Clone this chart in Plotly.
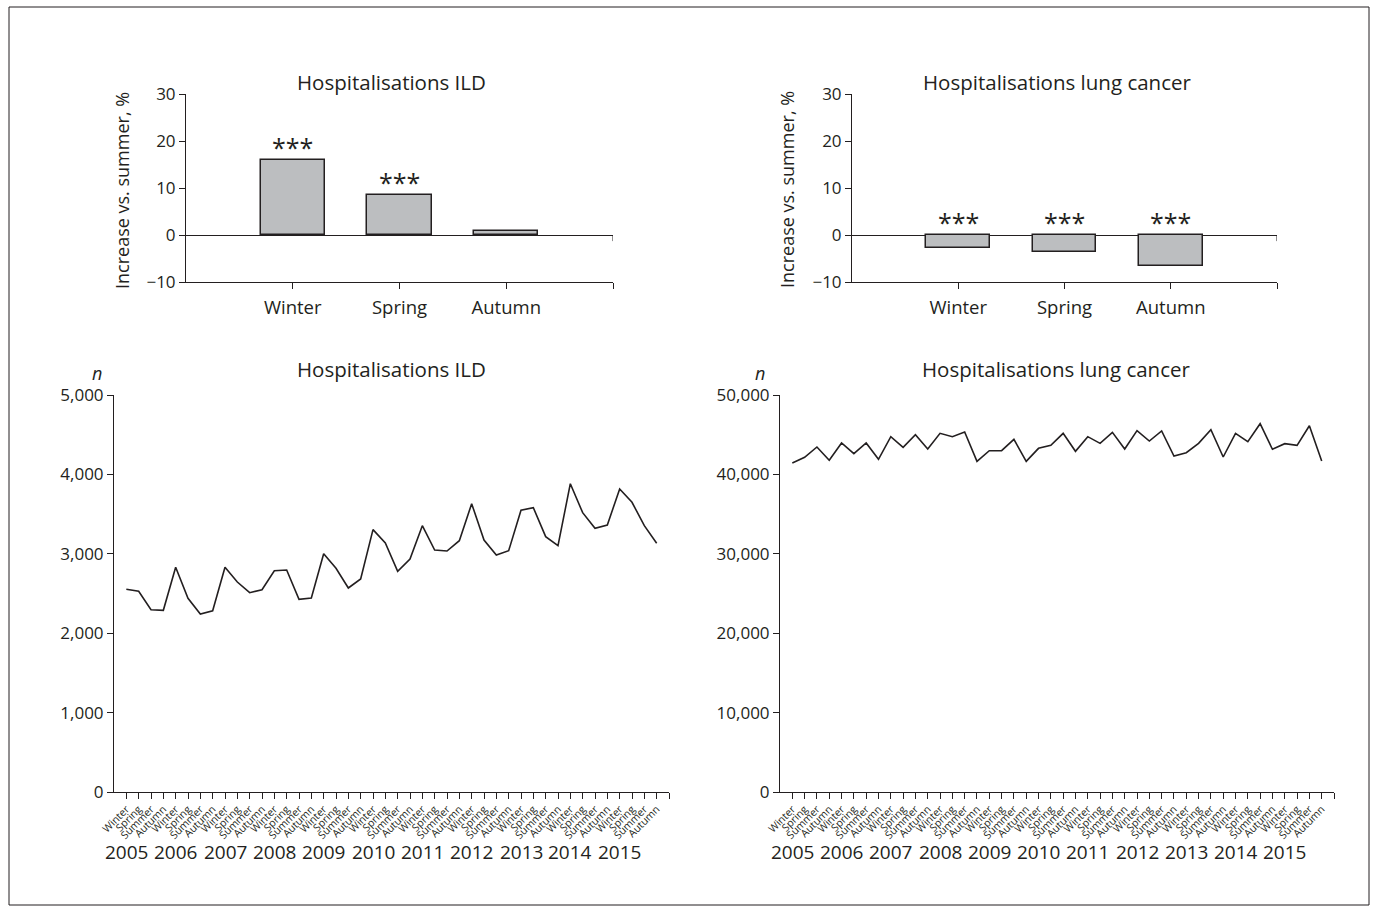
import plotly.graph_objects as go

W, H = 1373, 911

# ---------------- data ----------------
bar_categories = ["Winter", "Spring", "Autumn"]
ild_increase = [16.0, 8.6, 0.8]
ild_sig = ["***", "***", ""]
lc_increase = [-2.7, -3.6, -6.5]
lc_sig = ["***", "***", "***"]

years = ["2005", "2006", "2007", "2008", "2009", "2010",
         "2011", "2012", "2013", "2014", "2015"]
seasons = ["Winter", "Spring", "Summer", "Autumn"]

ild_counts = [2553, 2528, 2296, 2288, 2830, 2439, 2242, 2283, 2830, 2645, 2510,
              2548, 2787, 2796, 2427, 2443, 3001, 2817, 2569, 2683, 3304, 3136,
              2780, 2935, 3354, 3048, 3035, 3165, 3631, 3174, 2985, 3039, 3548,
              3581, 3216, 3102, 3883, 3518, 3321, 3363, 3816, 3649, 3354, 3132]

lc_counts = [41436, 42150, 43451, 41772, 43955, 42607, 43955, 41898, 44752, 43409,
             45004, 43199, 45172, 44752, 45340, 41646, 42984, 42984, 44416, 41646,
             43283, 43661, 45172, 42907, 44752, 43913, 45298, 43199, 45508, 44206,
             45466, 42317, 42737, 43913, 45634, 42191, 45172, 44122, 46385, 43161,
             43871, 43661, 46134, 41688]

# ---------------- style ----------------
INK = "#231f20"
BAR_FILL = "#bcbec0"
FONT = "Open Sans"


def px_x(p):
    return p / W


def px_y(p):
    return 1 - p / H


fig = go.Figure()

# ---- bar charts ----
bar_x = list(range(1, len(bar_categories) + 1))
fig.add_trace(go.Bar(x=bar_x, y=ild_increase, xaxis="x", yaxis="y",
                     marker=dict(color=BAR_FILL, line=dict(color=INK, width=1.5)),
                     width=0.6, showlegend=False, hoverinfo="skip"))
fig.add_trace(go.Bar(x=bar_x, y=lc_increase, xaxis="x2", yaxis="y2",
                     marker=dict(color=BAR_FILL, line=dict(color=INK, width=1.5)),
                     width=0.6, showlegend=False, hoverinfo="skip"))

# ---- line charts ----
n_pts = len(ild_counts)
line_x = list(range(1, n_pts + 1))
season_labels = [seasons[i % 4] for i in range(n_pts)]
fig.add_trace(go.Scatter(x=line_x, y=ild_counts, xaxis="x3", yaxis="y3",
                         mode="lines", line=dict(color=INK, width=1.6),
                         showlegend=False, hoverinfo="skip"))
fig.add_trace(go.Scatter(x=line_x, y=lc_counts, xaxis="x4", yaxis="y4",
                         mode="lines", line=dict(color=INK, width=1.6),
                         showlegend=False, hoverinfo="skip"))

common_axis = dict(showline=True, linecolor=INK, linewidth=1, ticks="outside",
                   ticklen=6, tickwidth=1, tickcolor=INK, showgrid=False,
                   automargin=False,
                   tickfont=dict(family=FONT, size=17, color=INK))

bar_xaxis = dict(common_axis, range=[0, len(bar_categories) + 1],
                 tickvals=bar_x + [len(bar_categories) + 1],
                 ticktext=bar_categories + [""], zeroline=False,
                 ticklabelstandoff=3,
                 tickfont=dict(family=FONT, size=18.5, color=INK))
bar_yaxis = dict(common_axis, range=[-10, 30], tickvals=[-10, 0, 10, 20, 30],
                 zeroline=True, zerolinecolor=INK, zerolinewidth=1)

line_xaxis = dict(common_axis, range=[0, n_pts + 1],
                  tickvals=line_x + [n_pts + 1],
                  ticktext=season_labels + [""], tickangle=-45, zeroline=False,
                  tickfont=dict(family=FONT, size=10.5, color=INK))

fig.update_layout(
    width=W, height=H,
    margin=dict(l=0, r=0, t=0, b=0, pad=0, autoexpand=False),
    paper_bgcolor="white", plot_bgcolor="white",
    bargap=0,
    xaxis=dict(bar_xaxis, domain=[px_x(186), px_x(613)], anchor="y"),
    yaxis=dict(bar_yaxis, domain=[px_y(282), px_y(94)], anchor="x"),
    xaxis2=dict(bar_xaxis, domain=[px_x(852), px_x(1277)], anchor="y2"),
    yaxis2=dict(bar_yaxis, domain=[px_y(282), px_y(94)], anchor="x2"),
    xaxis3=dict(line_xaxis, domain=[px_x(114), px_x(669)], anchor="y3"),
    yaxis3=dict(common_axis, domain=[px_y(792), px_y(395)], anchor="x3",
                range=[0, 5000], tickvals=[0, 1000, 2000, 3000, 4000, 5000],
                tickformat=",", zeroline=False),
    xaxis4=dict(line_xaxis, domain=[px_x(780), px_x(1334)], anchor="y4"),
    yaxis4=dict(common_axis, domain=[px_y(792), px_y(395)], anchor="x4",
                range=[0, 50000], tickvals=[0, 10000, 20000, 30000, 40000, 50000],
                tickformat=",", zeroline=False),
)

annotations = []
shapes = []

# titles
for text, cx, cy in [("Hospitalisations ILD", 391, 82),
                     ("Hospitalisations lung cancer", 1057, 82),
                     ("Hospitalisations ILD", 391, 369),
                     ("Hospitalisations lung cancer", 1056, 369)]:
    annotations.append(dict(text=text, x=px_x(cx), y=px_y(cy), xref="paper", yref="paper",
                            showarrow=False, xanchor="center", yanchor="middle",
                            font=dict(family=FONT, size=20.5, color=INK)))

# y titles for bar charts
for cx in [122, 787]:
    annotations.append(dict(text="Increase vs. summer, %", x=px_x(cx), y=px_y(190),
                            xref="paper", yref="paper", showarrow=False, textangle=-90,
                            xanchor="center", yanchor="middle",
                            font=dict(family=FONT, size=18, color=INK)))

# n labels
for cx in [97, 760]:
    annotations.append(dict(text="<i>n</i>", x=px_x(cx), y=px_y(373), xref="paper",
                            yref="paper", showarrow=False, xanchor="center",
                            yanchor="middle", font=dict(family=FONT, size=18, color=INK)))

# significance stars
for axn, vals, sigs in [("", ild_increase, ild_sig), ("2", lc_increase, lc_sig)]:
    for xi, v, s in zip(bar_x, vals, sigs):
        if s:
            annotations.append(dict(text=s, x=xi, y=max(v, 0), xref="x" + axn,
                                    yref="y" + axn, showarrow=False, xanchor="center",
                                    yanchor="bottom", yshift=-6,
                                    font=dict(family=FONT, size=25, color=INK)))
    # small end tick on zero line
    shapes.append(dict(type="line", xref="x" + axn, yref="y" + axn,
                       x0=len(bar_categories) + 1, x1=len(bar_categories) + 1,
                       y0=0, y1=-1.3, line=dict(color=INK, width=1)))

# year labels
for axn in ["3", "4"]:
    for i, yr in enumerate(years):
        annotations.append(dict(text=yr, x=1 + 4 * i, y=px_y(852), xref="x" + axn,
                                yref="paper", showarrow=False, xanchor="center",
                                yanchor="middle",
                                font=dict(family=FONT, size=19, color=INK)))

# outer frame
shapes.append(dict(type="rect", xref="paper", yref="paper",
                   x0=px_x(9), x1=px_x(1369), y0=px_y(905), y1=px_y(7),
                   line=dict(color=INK, width=1), fillcolor="rgba(0,0,0,0)"))

fig.update_layout(annotations=annotations, shapes=shapes)

fig.write_html("out.html",
               config={"displayModeBar": False},
               post_script="document.body.style.margin='0px';"
                           "document.body.style.overflow='hidden';")
